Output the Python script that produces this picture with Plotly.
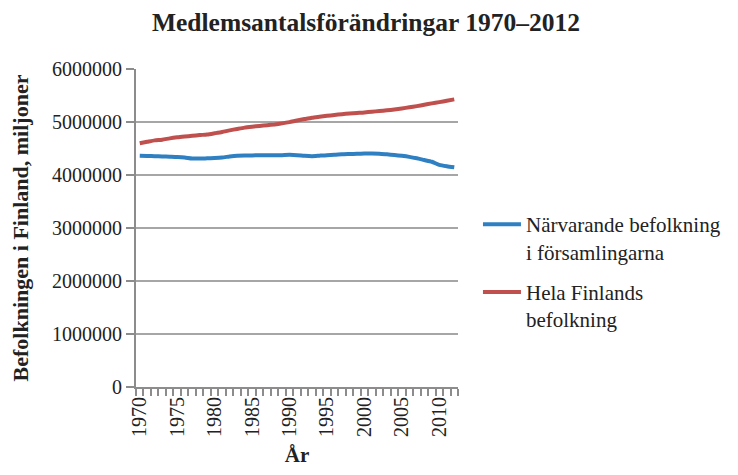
import plotly.graph_objects as go

years = list(range(1970, 2013))
narvarande = [4365000, 4360000, 4355000, 4350000, 4345000, 4340000, 4330000, 4312000, 4310000, 4315000,
              4320000, 4330000, 4350000, 4365000, 4370000, 4370000, 4372000, 4372000, 4373000, 4375000,
              4380000, 4375000, 4362000, 4355000, 4365000, 4375000, 4380000, 4390000, 4395000, 4400000,
              4405000, 4408000, 4403000, 4390000, 4377000, 4362000, 4342000, 4315000, 4282000, 4250000,
              4192000, 4165000, 4145000]
hela = [4598000, 4626000, 4653000, 4666000, 4691000, 4711000, 4726000, 4739000, 4753000, 4765000,
        4788000, 4812000, 4842000, 4869000, 4894000, 4911000, 4926000, 4939000, 4954000, 4974000,
        4998000, 5029000, 5055000, 5080000, 5099000, 5117000, 5132000, 5147000, 5160000, 5171000,
        5181000, 5195000, 5206000, 5220000, 5237000, 5256000, 5277000, 5300000, 5326000, 5351000,
        5375000, 5401000, 5427000]
xticks = list(range(1970, 2011, 5))
yticks = [0, 1000000, 2000000, 3000000, 4000000, 5000000, 6000000]

serif = "Liberation Serif, Times New Roman, serif"

fig = go.Figure()
fig.add_trace(go.Scatter(x=years, y=narvarande, mode="lines", legendgroup="a",
                         name="Närvarande befolkning<br>i församlingarna",
                         line=dict(color="#2E80C2", width=4, shape="spline", smoothing=0.6)))
fig.add_trace(go.Scatter(x=years, y=hela, mode="lines", legendgroup="b",
                         name="Hela Finlands<br>befolkning",
                         line=dict(color="#C0504D", width=4, shape="spline", smoothing=0.6)))

fig.update_layout(
    width=756, height=467,
    margin=dict(l=128, r=306, t=61, b=88),
    paper_bgcolor="white", plot_bgcolor="white",
    font=dict(family=serif, size=20, color="#222"),
    title=dict(text="<b>Medlemsantalsförändringar 1970–2012</b>",
               x=0.4735, xanchor="center", y=0.970, yanchor="middle",
               font=dict(family=serif, size=25.5, color="#222")),
    legend=dict(x=1.062, xanchor="left", y=0.575, yanchor="top",
                font=dict(family=serif, size=21, color="#222"),
                valign="top", traceorder="grouped", tracegroupgap=10, itemwidth=38,
                bgcolor="rgba(0,0,0,0)"),
    showlegend=True,
)
fig.update_xaxes(
    range=[1969.5, 2012.5], tickvals=xticks, ticktext=[str(v) for v in xticks],
    tickangle=-90, ticks="", showgrid=False, automargin=False,
    showline=True, linecolor="#8c8c8c", linewidth=2,
    tickfont=dict(family=serif, size=20, color="#222"),
    minor=dict(ticks="outside", tick0=1969.5, dtick=1, ticklen=7, tickcolor="#8c8c8c", tickwidth=1.5, showgrid=False),
    title=dict(text="<b>År</b>", font=dict(family=serif, size=21, color="#222"), standoff=11),
    zeroline=False,
)
fig.update_yaxes(
    range=[0, 6000000], tickvals=yticks, ticktext=[str(v) for v in yticks],
    ticks="outside", ticklen=8, tickcolor="#8c8c8c", tickwidth=1.5, automargin=False,
    showgrid=True, gridcolor="#a6a6a6", gridwidth=1.5,
    showline=True, linecolor="#8c8c8c", linewidth=2,
    tickfont=dict(family=serif, size=20, color="#222"),
    title=dict(text="<b>Befolkningen i Finland, miljoner</b>", font=dict(family=serif, size=22, color="#222"), standoff=20),
    zeroline=False,
)

fig.write_html("out.html")
